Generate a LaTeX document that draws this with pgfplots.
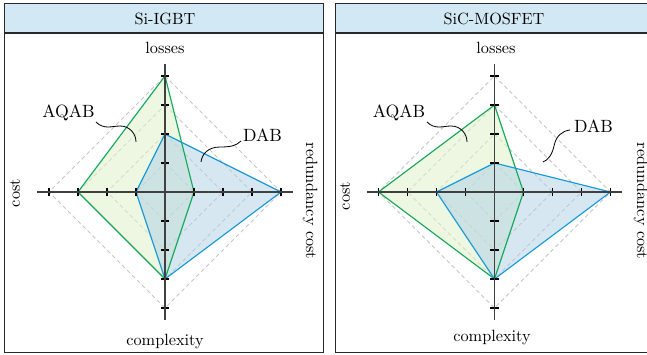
\documentclass[border=0pt]{standalone}
\usepackage{pgfplots}
\pgfplotsset{compat=1.18}
\definecolor{aqline}{RGB}{20,170,90}
\definecolor{aqfill}{RGB}{222,240,200}
\definecolor{dabline}{RGB}{25,155,215}
\definecolor{dabfill}{RGB}{175,208,230}
\definecolor{titlefill}{RGB}{210,233,245}
\definecolor{framec}{RGB}{40,40,40}
\pgfplotsset{
  radar/.style={
    anchor=origin, x=17.835pt, y=17.835pt,
    xmin=-4.4, xmax=4.4, ymin=-4.4, ymax=4.4,
    axis lines=middle,
    axis line style={-, line width=0.65pt, black!75},
    xtick={-4,-3,-2,-1,1,2,3,4}, ytick={-4,-3,-2,-1,1,2,3,4},
    xticklabels={}, yticklabels={},
    tick align=center, major tick length=5pt,
    tick style={black, line width=0.65pt},
    axis on top, clip=false,
  },
  grid diamond/.style={gray!45, line width=0.45pt, dash pattern=on 2.5pt off 1.8pt},
  aqf/.style={draw=none, fill=aqfill, fill opacity=0.55},
  dabf/.style={draw=none, fill=dabfill, fill opacity=0.5},
  aq/.style={aqline, line width=0.7pt},
  dab/.style={dabline, line width=0.7pt},
}
\begin{document}
\begin{tikzpicture}[x=0.615pt, y=0.615pt]
\path[use as bounding box] (0,0) rectangle (647,354);
% frames
\fill[titlefill] (4,350.5) rectangle (323,321);
\fill[titlefill] (335,350.5) rectangle (652,321);
\draw[framec, line width=0.6pt] (4,350.5) rectangle (323,2);
\draw[framec, line width=0.6pt] (335,350.5) rectangle (652,2);
\draw[framec, line width=0.9pt] (4,321) -- (323,321);
\draw[framec, line width=0.9pt] (335,321) -- (652,321);
\node at (165,335.5) {Si-IGBT};
\node at (494,335.5) {SiC-MOSFET};

\coordinate (cA) at (165,162);
\coordinate (cB) at (494.5,162);

% ---------------- Si-IGBT ----------------
\begin{axis}[radar, at={(cA)}]
\addplot[grid diamond] coordinates {(0,1) (1,0) (0,-1) (-1,0)} -- cycle;
\addplot[grid diamond] coordinates {(0,2) (2,0) (0,-2) (-2,0)} -- cycle;
\addplot[grid diamond] coordinates {(0,3) (3,0) (0,-3) (-3,0)} -- cycle;
\addplot[grid diamond] coordinates {(0,4) (4,0) (0,-4) (-4,0)} -- cycle;
% order: losses, redundancy cost, complexity, cost
\addplot[aqf] coordinates {(0,4) (1,0) (0,-3) (-3,0)} -- cycle;
\addplot[dabf] coordinates {(0,2) (4,0) (0,-3) (-1,0)} -- cycle;
\addplot[aq] coordinates {(0,4) (1,0) (0,-3) (-3,0)} -- cycle;
\addplot[dab] coordinates {(0,2) (4,0) (0,-3) (-1,0)} -- cycle;
\end{axis}

% ---------------- SiC-MOSFET ----------------
\begin{axis}[radar, at={(cB)}]
\addplot[grid diamond] coordinates {(0,1) (1,0) (0,-1) (-1,0)} -- cycle;
\addplot[grid diamond] coordinates {(0,2) (2,0) (0,-2) (-2,0)} -- cycle;
\addplot[grid diamond] coordinates {(0,3) (3,0) (0,-3) (-3,0)} -- cycle;
\addplot[grid diamond] coordinates {(0,4) (4,0) (0,-4) (-4,0)} -- cycle;
\addplot[aqf] coordinates {(0,3) (1,0) (0,-3) (-4,0)} -- cycle;
\addplot[dabf] coordinates {(0,1) (4,0) (0,-3) (-2,0)} -- cycle;
\addplot[aq] coordinates {(0,3) (1,0) (0,-3) (-4,0)} -- cycle;
\addplot[dab] coordinates {(0,1) (4,0) (0,-3) (-2,0)} -- cycle;
\end{axis}

% axis names
\node at (165,306) {losses};
\node at (165,12) {complexity};
\node[rotate=90] at (15,161) {cost};
\node[rotate=-90] at (310,153) {redundancy cost};
\node at (496,306) {losses};
\node at (492,16) {complexity};
\node[rotate=90] at (345,158) {cost};
\node[rotate=-90] at (641,153) {redundancy cost};

% annotations
\node[font=\fontsize{10.9}{13}\selectfont] at (68.5,241.5) {AQAB};
\draw[line width=0.5pt] (96,232) .. controls (104,224) and (112,228) .. (120,228) .. controls (130,228) and (136,220) .. (136,212);
\node[font=\fontsize{10.9}{13}\selectfont] at (262.5,219) {DAB};
\draw[line width=0.5pt] (241,213) .. controls (236,208) and (230,207) .. (220,207) .. controls (208,207) and (202,200) .. (201,192);

\node[font=\fontsize{10.9}{13}\selectfont] at (399,241.5) {AQAB};
\draw[line width=0.5pt] (427,232) .. controls (435,224) and (443,228) .. (451,228) .. controls (461,228) and (467,220) .. (467,212);
\node[font=\fontsize{10.9}{13}\selectfont] at (593.5,228) {DAB};
\draw[line width=0.5pt] (570,224) .. controls (562,223) and (556,218) .. (554,208) .. controls (552,199) and (548,194) .. (543,192);
\end{tikzpicture}
\end{document}
